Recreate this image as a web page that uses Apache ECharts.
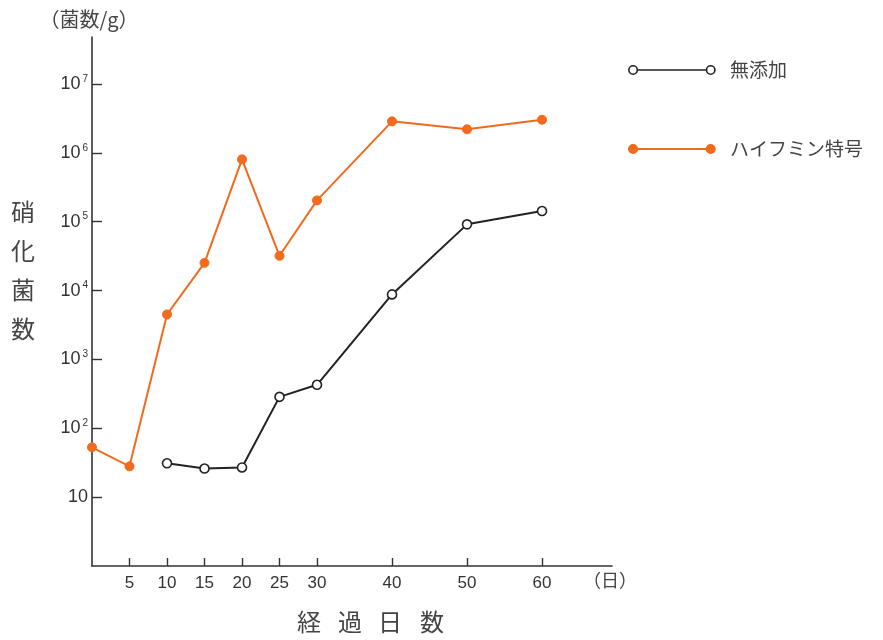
<!DOCTYPE html>
<html><head><meta charset="utf-8">
<script src="https://cdn.jsdelivr.net/npm/echarts@6/dist/echarts.min.js"></script>
<style>html,body{margin:0;background:#fff}#c{width:883px;height:640px}</style>
</head><body><div id="c"></div>
<script>
const days = [0, 5, 10, 15, 20, 25, 30, 40, 50, 60];
const mutenka = [null, null, 31, 26, 27, 286, 428, 8800, 91600, 143000];
const haifumin = [53, 28, 4500, 25300, 805000, 32000, 204000, 2870000, 2200000, 3030000];
const xTicks = [5, 10, 15, 20, 25, 30, 40, 50, 60];
const yTicks = [10, 100, 1000, 10000, 100000, 1000000, 10000000];
const seriesNames = ['無添加', 'ハイフミン特号'];
const xTitleChars = ['経', '過', '日', '数'];

const FONT = "'Liberation Sans', 'Noto Sans CJK JP', sans-serif";
const JP = "'Noto Sans CJK JP', sans-serif";
const BLACK = '#222';
const ORANGE = '#f26a1c';

function pairs(vals) {
  const out = [];
  days.forEach((d, i) => { if (vals[i] != null) out.push([d, vals[i]]); });
  return out;
}

const ICON = 'path://M5,1A4,4 0 1,0 5,9A4,4 0 1,0 5,1Z M9,5L75,5 M79,1A4,4 0 1,0 79,9A4,4 0 1,0 79,1Z';

const xTitleX = [297, 338, 378, 420];

const chart = echarts.init(document.getElementById('c'));
chart.setOption({
  backgroundColor: '#fff',
  animation: false,
  textStyle: { fontFamily: FONT },
  grid: { left: 92, right: 271, top: 37, bottom: 74 },
  legend: {
    orient: 'vertical', left: 623, top: 55,
    itemWidth: 86, itemHeight: 10, itemGap: 59,
    textStyle: { fontFamily: JP, fontSize: 19, lineHeight: 20, color: '#444', padding: [0, 0, 0, 10] },
    data: [
      { name: seriesNames[0], icon: ICON,
        itemStyle: { color: '#fff', borderColor: BLACK, borderWidth: 1.6 } },
      { name: seriesNames[1], icon: ICON,
        itemStyle: { color: ORANGE, borderColor: ORANGE, borderWidth: 1.8 } }
    ]
  },
  xAxis: {
    type: 'value', min: 0, max: 69.33,
    axisLine: { lineStyle: { color: '#333', width: 1.6 } },
    axisTick: { inside: true, length: 8, customValues: xTicks, lineStyle: { color: '#333', width: 1.4 } },
    axisLabel: { customValues: xTicks, fontSize: 17, color: '#333', margin: 9 },
    splitLine: { show: false }
  },
  yAxis: {
    type: 'log', logBase: 10, min: 1, max: 48200000,
    axisLine: { show: true, lineStyle: { color: '#333', width: 1.6 } },
    axisTick: { inside: true, length: 10, customValues: yTicks, lineStyle: { color: '#333', width: 1.4 } },
    axisLabel: {
      customValues: yTicks, margin: 4, color: '#333',
      formatter: v => {
        const e = Math.round(Math.log10(v));
        return e === 1 ? '{b|10}' : '{b|10}{s|' + e + '}';
      },
      rich: {
        b: { fontSize: 18, color: '#333', fontFamily: FONT, lineHeight: 20 },
        s: { fontSize: 10, color: '#333', fontFamily: FONT, verticalAlign: 'top', lineHeight: 20, padding: [0, 0, 0, 2] }
      }
    },
    splitLine: { show: false },
    name: '（菌数/g）', nameLocation: 'end', nameGap: 8,
    nameTextStyle: { fontFamily: JP, fontSize: 20, color: '#444', align: 'center', padding: [0, 6, 0, 0] }
  },
  graphic: [
    { type: 'text', left: 11, top: 192,
      style: { text: '硝\n化\n菌\n数', font: '24px ' + JP, fill: '#444', lineHeight: 39 } },
    { type: 'text', left: 583, top: 571,
      style: { text: '（日）', font: '18px ' + JP, fill: '#444' } }
  ].concat(xTitleChars.map((c, i) => ({
    type: 'text', left: xTitleX[i], top: 610,
    style: { text: c, font: '24px ' + JP, fill: '#444' }
  }))),
  series: [
    { name: seriesNames[0], type: 'line', data: pairs(mutenka),
      symbol: 'circle', symbolSize: 9,
      lineStyle: { color: BLACK, width: 2 },
      itemStyle: { color: '#fff', borderColor: BLACK, borderWidth: 1.6 } },
    { name: seriesNames[1], type: 'line', data: pairs(haifumin),
      symbol: 'circle', symbolSize: 9,
      lineStyle: { color: ORANGE, width: 2 },
      itemStyle: { color: ORANGE, borderColor: ORANGE, borderWidth: 1 } }
  ]
});
</script></body></html>
